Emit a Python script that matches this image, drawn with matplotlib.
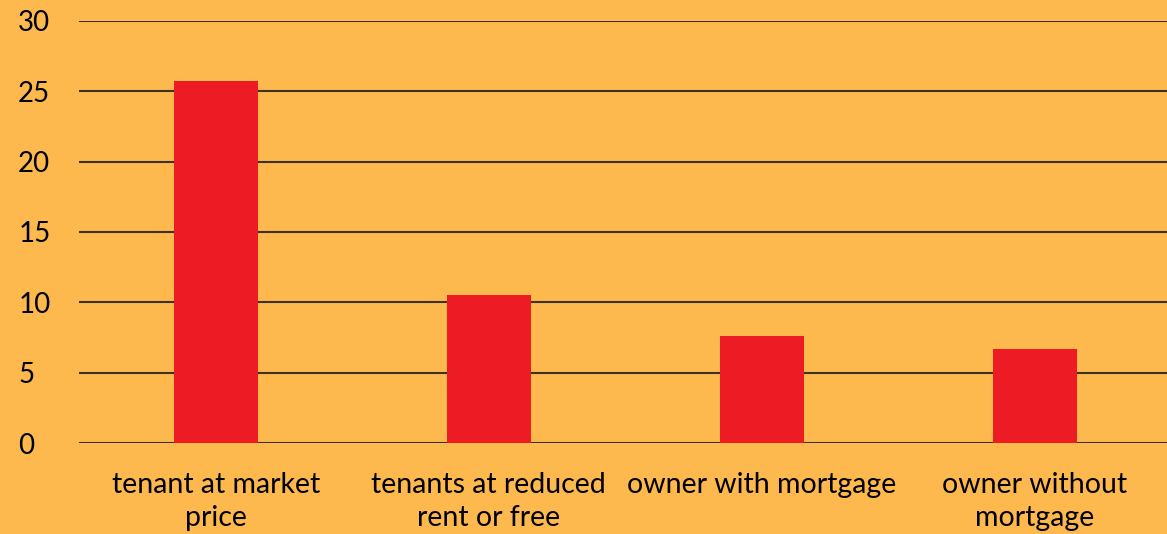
import matplotlib.pyplot as plt

# housing status shares
categories = ['tenant at market\nprice', 'tenants at reduced\nrent or free',
              'owner with mortgage', 'owner without\nmortgage']
values = [25.7, 10.5, 7.6, 6.7]
yticks = [0, 5, 10, 15, 20, 25, 30]

bg = '#FDB94D'
plt.rcParams['font.family'] = ['Lato', 'DejaVu Sans']

fig = plt.figure(figsize=(11.67, 5.34), dpi=100, facecolor=bg)
ax = fig.add_axes([0.068, 0.1704, 0.9357, 0.7903])
ax.set_facecolor(bg)

x = range(len(categories))
ax.bar(x, values, width=0.31, color='#ED1C24', zorder=3)

ax.set_xlim(-0.5, 3.5)
ax.set_ylim(0, 30)
ax.set_yticks(yticks)
ax.set_yticklabels([str(t) for t in yticks], fontsize=20)
ax.set_xticks(list(x))
ax.set_xticklabels(categories, fontsize=20.5, linespacing=1.32)
ax.tick_params(length=0)
ax.tick_params(axis='y', pad=44)
ax.tick_params(axis='x', pad=21)
for lbl in ax.get_yticklabels():
    lbl.set_horizontalalignment('left')

ax.grid(axis='y', color='#3F3121', linewidth=1.5, zorder=1)
for s in ax.spines.values():
    s.set_visible(False)

fig.savefig('out.png', dpi=100, facecolor=bg)
